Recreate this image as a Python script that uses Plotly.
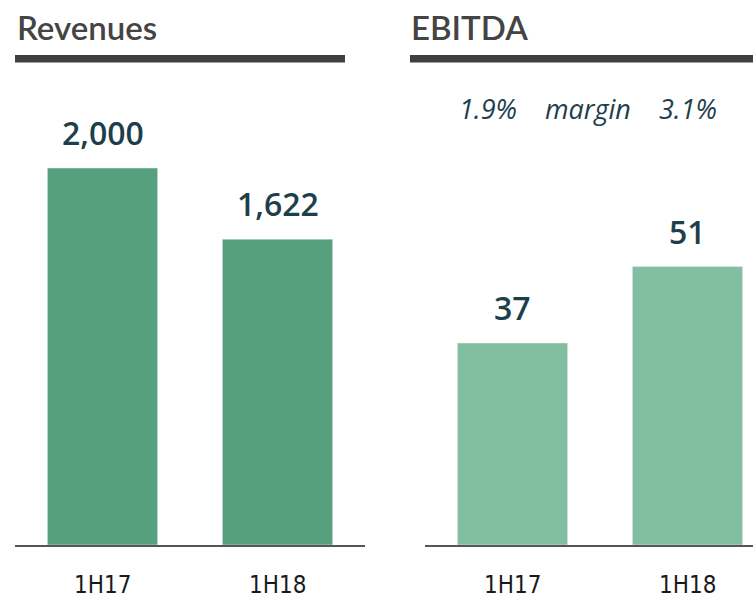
import plotly.graph_objects as go

W, H = 753, 598

periods = ["1H17", "1H18"]
revenues = [2000, 1622]
revenue_labels = ["2,000", "1,622"]
ebitda = [37, 51]
ebitda_labels = ["37", "51"]
margins = ["1.9%", "3.1%"]
titles = ["Revenues", "EBITDA"]

def px_x(x):
    return x / W

def px_y(y):
    return 1 - y / H

base_y = 545
top_y = 65
plot_h = base_y - top_y

fig = go.Figure()
fig.add_trace(go.Bar(x=periods, y=revenues, marker_color="#56A07D", width=0.63,
                     xaxis="x", yaxis="y", hoverinfo="skip"))
fig.add_trace(go.Bar(x=periods, y=ebitda, marker_color="#84BEA1", width=0.63,
                     xaxis="x2", yaxis="y2", hoverinfo="skip"))

label_font = dict(family="Open Sans", size=32, color="#1D3F4B", weight=600)
annotations = []
for p, v, t in zip(periods, revenues, revenue_labels):
    annotations.append(dict(x=p, y=v, xref="x", yref="y", text=t, showarrow=False,
                            yanchor="bottom", yshift=12, font=label_font))
for p, v, t in zip(periods, ebitda, ebitda_labels):
    annotations.append(dict(x=p, y=v, xref="x2", yref="y2", text=t, showarrow=False,
                            yanchor="bottom", yshift=12, font=label_font))

cat_font = dict(family="DejaVu Sans Condensed, Noto Sans", size=24, color="#1A1A1A")
for xr in ("x", "x2"):
    for p in periods:
        annotations.append(dict(x=p, y=px_y(585), xref=xr, yref="paper", text=p,
                                showarrow=False, yanchor="middle", font=cat_font))

title_font = dict(family="Lato", size=33, color="#444444", weight=600)
annotations.append(dict(x=px_x(15), y=px_y(27), xref="paper", yref="paper", text=titles[0],
                        showarrow=False, xanchor="left", yanchor="middle", font=title_font))
annotations.append(dict(x=px_x(409), y=px_y(27), xref="paper", yref="paper", text=titles[1],
                        showarrow=False, xanchor="left", yanchor="middle", font=title_font))

sp = "&nbsp;" * 4
annotations.append(dict(x=px_x(588), y=px_y(108), xref="paper", yref="paper",
                        text=f"<i>{margins[0]}{sp}margin{sp}{margins[1]}</i>",
                        showarrow=False, xanchor="center", yanchor="middle",
                        font=dict(family="Open Sans", size=27, color="#1D3F4B")))

shapes = [
    dict(type="rect", xref="paper", yref="paper", x0=px_x(15), x1=px_x(345),
         y0=px_y(62.5), y1=px_y(55), fillcolor="#3F3F3F", line_width=0),
    dict(type="rect", xref="paper", yref="paper", x0=px_x(410), x1=px_x(753),
         y0=px_y(62.5), y1=px_y(55), fillcolor="#3F3F3F", line_width=0),
]

common_x = dict(type="category", showgrid=False, zeroline=False, showline=True,
                linecolor="#555555", linewidth=1.5, ticks="", showticklabels=False,
                fixedrange=True)
common_y = dict(visible=False, showgrid=False, zeroline=False, fixedrange=True)

rev_scale = (base_y - 168) / revenues[0]
ebit_scale = (base_y - 343) / ebitda[0]

fig.update_layout(
    width=W, height=H,
    margin=dict(l=0, r=0, t=0, b=0, autoexpand=False),
    paper_bgcolor="white", plot_bgcolor="white",
    showlegend=False,
    xaxis=dict(common_x, domain=[px_x(15), px_x(365)], range=[-0.5, 1.5], anchor="y"),
    yaxis=dict(common_y, domain=[px_y(base_y), px_y(top_y)], range=[0, plot_h / rev_scale], anchor="x"),
    xaxis2=dict(common_x, domain=[px_x(425), 1.0], range=[-0.5, -0.5 + 328 / 175], anchor="y2"),
    yaxis2=dict(common_y, domain=[px_y(base_y), px_y(top_y)], range=[0, plot_h / ebit_scale], anchor="x2"),
    annotations=annotations,
    shapes=shapes,
)

post = (
    "document.body.style.margin='0';"
    "document.body.style.overflow='hidden';"
    "document.querySelectorAll('.annotation-text').forEach(function(e){"
    "if(/^1H1/.test(e.textContent)){e.style.fontStretch='condensed';}});"
)
fig.write_html("out.html", post_script=post, config={"displayModeBar": False})
